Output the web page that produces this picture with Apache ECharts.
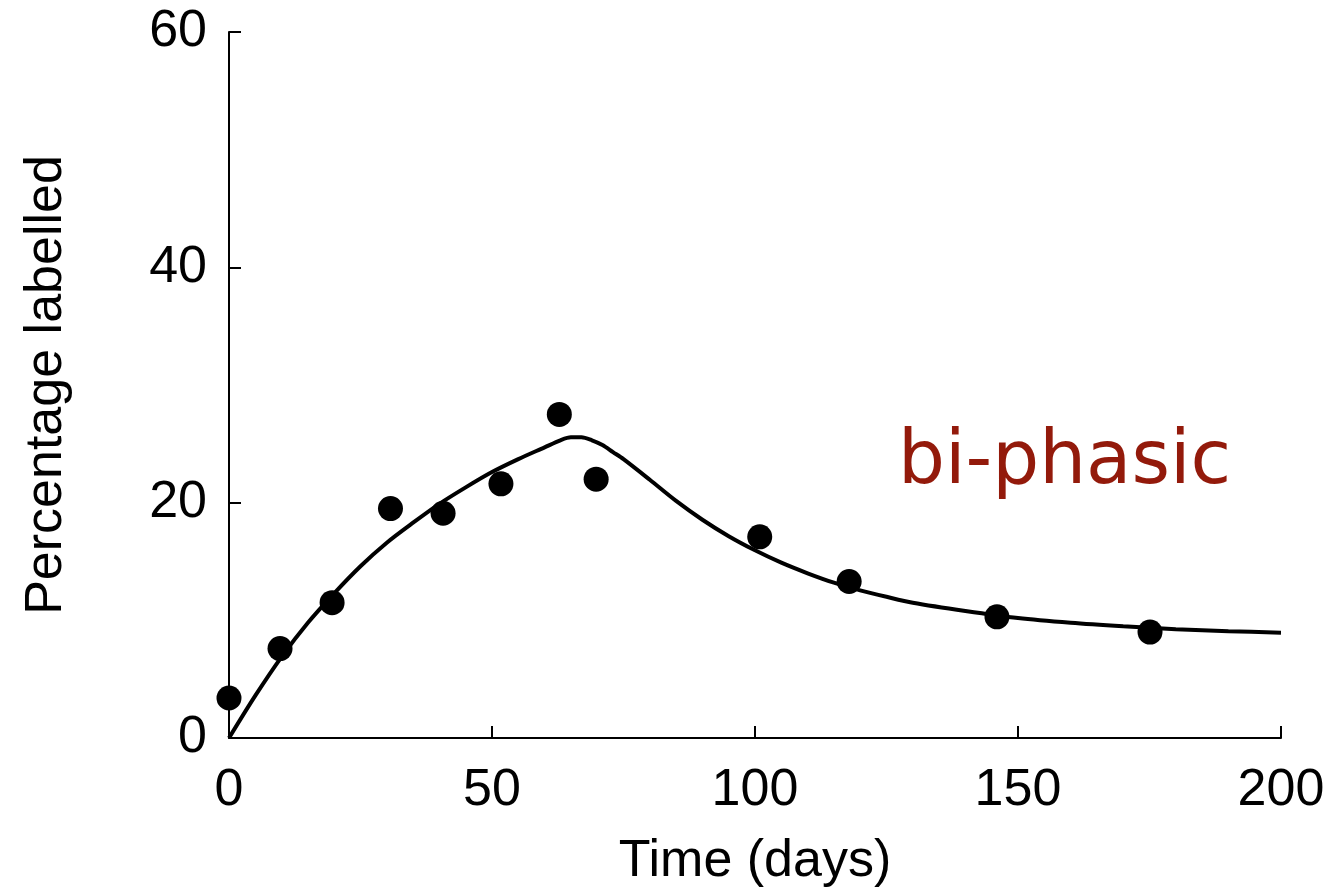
<!DOCTYPE html>
<html>
<head>
<meta charset="utf-8">
<script src="https://cdn.jsdelivr.net/npm/echarts@6/dist/echarts.min.js"></script>
<style>
html,body{margin:0;padding:0;background:#fff;}
#chart{width:1337px;height:894px;}
</style>
</head>
<body>
<div id="chart"></div>
<script>
// Observed data points (days, % labelled)
const obsDays = [0, 9.7, 19.6, 30.7, 40.7, 51.7, 62.8, 69.8, 100.9, 117.9, 146.0, 175.1];
const obsPct  = [3.4, 7.6, 11.5, 19.5, 19.1, 21.6, 27.5, 22.0, 17.1, 13.3, 10.3, 9.0];

// Fitted bi-phasic model curve
const fitDays = [0, 5, 10, 15, 20, 25, 30, 35, 40, 45, 50, 55, 60, 63, 65, 67, 69, 71, 73, 75, 80, 85, 90, 95, 100, 105, 110, 115, 120, 125, 130, 140, 150, 160, 170, 180, 190, 200];
const fitPct  = [0, 3.6, 6.9, 9.8, 12.3, 14.6, 16.6, 18.3, 19.9, 21.3, 22.6, 23.7, 24.7, 25.3, 25.55, 25.55, 25.3, 24.9, 24.3, 23.7, 21.95, 20.15, 18.55, 17.15, 15.95, 14.9, 14.0, 13.2, 12.55, 12.0, 11.5, 10.8, 10.2, 9.8, 9.5, 9.25, 9.08, 8.95];

const xTicks = [0, 50, 100, 150, 200];
const yTicks = [0, 20, 40, 60];
const xName = 'Time (days)';
const yName = 'Percentage labelled';
const annotation = 'bi-phasic';

const chart = echarts.init(document.getElementById('chart'), null, {renderer: 'canvas'});
const font = "'Liberation Sans', Arial, Helvetica, sans-serif";
chart.setOption({
  animation: false,
  backgroundColor: '#ffffff',
  grid: {left: 229, right: 56, top: 32, bottom: 156, containLabel: false},
  xAxis: {
    type: 'value',
    min: xTicks[0], max: xTicks[xTicks.length - 1], interval: 50,
    name: xName, nameLocation: 'middle', nameGap: 98,
    nameTextStyle: {fontFamily: font, fontSize: 52, color: '#000'},
    axisLine: {show: true, onZero: false, lineStyle: {color: '#000', width: 2}},
    axisTick: {show: true, inside: true, length: 12, lineStyle: {color: '#000', width: 2}},
    axisLabel: {fontFamily: font, fontSize: 52, color: '#000', margin: 27},
    splitLine: {show: false}
  },
  yAxis: {
    type: 'value',
    min: yTicks[0], max: yTicks[yTicks.length - 1], interval: 20,
    name: yName, nameLocation: 'middle', nameGap: 156, nameRotate: 90,
    nameTextStyle: {fontFamily: font, fontSize: 52, color: '#000'},
    axisLine: {show: true, onZero: false, lineStyle: {color: '#000', width: 2}},
    axisTick: {show: true, inside: true, length: 12, lineStyle: {color: '#000', width: 2}},
    axisLabel: {fontFamily: font, fontSize: 52, color: '#000', margin: 22},
    splitLine: {show: false}
  },
  series: [
    {
      type: 'line',
      data: fitDays.map((d, i) => [d, fitPct[i]]),
      showSymbol: false,
      smooth: 0.3,
      lineStyle: {color: '#000', width: 4},
      z: 2
    },
    {
      type: 'scatter',
      data: obsDays.map((d, i) => [d, obsPct[i]]),
      symbol: 'circle',
      symbolSize: 25,
      itemStyle: {color: '#000', opacity: 1},
      z: 3
    }
  ],
  graphic: [{
    type: 'text',
    left: 898,
    top: 427,
    style: {
      text: annotation,
      fill: '#931A0B',
      font: "74px 'Comic Sans MS', 'DejaVu Sans', sans-serif"
    }
  }]
});
</script>
</body>
</html>
